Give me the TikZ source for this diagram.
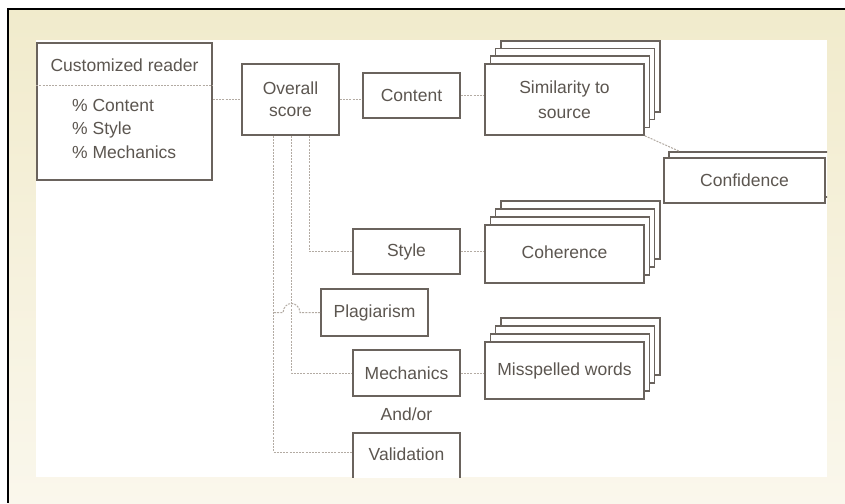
\documentclass[tikz,border=0pt]{standalone}
\usepackage{fontspec}
\setmainfont{Liberation Sans}
\usetikzlibrary{calc}
\definecolor{beigeT}{HTML}{F1EBCC}
\definecolor{beigeB}{HTML}{FAF7EC}
\definecolor{boxline}{HTML}{6A635D}
\definecolor{connline}{HTML}{B3ABA3}
\definecolor{txt}{HTML}{5C5650}
\begin{document}
\begin{tikzpicture}[x=1pt,y=-1pt,
  box/.style={draw=boxline, line width=1.6pt, fill=white, inner sep=0pt,
    font=\fontsize{17.5}{22}\selectfont, text=txt, align=center},
  conn/.style={draw=connline, line width=1pt, dash pattern=on 2pt off 1.2pt},
  lbl/.style={inner sep=0pt, font=\fontsize{17.5}{23.5}\selectfont, text=txt}]
\useasboundingbox (0,0) rectangle (845,503);
\fill[white] (0,0) rectangle (845,503);
\shade[top color=beigeT, bottom color=beigeB] (8,9) rectangle (845,503);
\fill[white] (36,40) rectangle (827,477);
\draw[black, line width=1.5pt] (8,503) -- (8,9) -- (845,9);

\begin{scope}
\clip (36,40) rectangle (827,477);

% Customized reader
\node[box, minimum width=175pt, minimum height=137pt] (cr) at (124.5,111.5) {};
\node[lbl] (crt) at (124.5,65) {Customized reader};
\draw[conn] ($(cr.north west)!0.314!(cr.south west)$) -- ($(cr.north east)!0.314!(cr.south east)$);
\node[lbl, anchor=west, align=left] (crl) at (72,128.5) {\% Content\\\% Style\\\% Mechanics};

% Overall score
\node[box, minimum width=97pt, minimum height=71pt] (ov) at (290.5,99.5) {Overall\\score};
% Content
\node[box, minimum width=97pt, minimum height=45pt] (ct) at (411.5,95.5) {Content};

% Similarity stack
\foreach \i in {3,2,1}
  \node[box, minimum width=159pt, minimum height=71pt] (sim\i) at (564.5+5.3*\i, 99.5-7.7*\i) {};
\node[box, minimum width=159pt, minimum height=71pt, font=\fontsize{17.5}{25}\selectfont] (sim) at (564.5,99.5) {Similarity to\\source};

% Confidence stack
\node[box, minimum width=161pt, minimum height=45pt] (cfb) at (749.5,174.5) {};
\node[box, minimum width=161pt, minimum height=45pt] (cf) at (744.5,180.5) {Confidence};

% Style
\node[box, minimum width=107pt, minimum height=45pt] (st) at (406.5,251.5) {Style};
% Coherence stack
\foreach \i in {3,2,1}
  \node[box, minimum width=159pt, minimum height=58pt] (coh\i) at (564.5+5.3*\i, 254-8*\i) {};
\node[box, minimum width=159pt, minimum height=58pt] (coh) at (564.5,254) {\raisebox{4pt}{Coherence}};

% Plagiarism
\node[box, minimum width=107pt, minimum height=47pt] (pl) at (374.5,312.5) {Plagiarism};
% Mechanics
\node[box, minimum width=107pt, minimum height=46pt] (me) at (406.5,373) {Mechanics};
% Misspelled stack
\foreach \i in {3,2,1}
  \node[box, minimum width=159pt, minimum height=57pt] (ms\i) at (564.5+5.3*\i, 370.5-8*\i) {};
\node[box, minimum width=159pt, minimum height=57pt] (ms) at (564.5,370.5) {\raisebox{3.5pt}{Misspelled words}};

\node[lbl] (andor) at (406.5,414) {And/or};
% Validation
\node[box, minimum width=107pt, minimum height=46pt] (va) at (406.5,456) {\raisebox{4pt}{Validation}};

% connectors
\coordinate (v1) at ([xshift=-17.5pt]ov.south);
\coordinate (v2) at ([xshift=0.5pt]ov.south);
\coordinate (v3) at ([xshift=18.5pt]ov.south);
\draw[conn] (cr.east |- ov.west) -- (ov.west);
\draw[conn] (ov.east) -- (ov.east -| ct.west);
\draw[conn] (ct.east) -- (ct.east -| sim.west);
\draw[conn] (sim.south east) -- ([xshift=11pt]cfb.north west);
\draw[conn] (v3) |- (st.west);
\draw[conn] (st.east) -- (st.east -| coh.west);
\draw[conn] (v2) |- (me.west);
\draw[conn] (me.east) -- (me.east -| ms.west);
\draw[conn] (v1) |- ([yshift=4pt]va.west);
\coordinate (hopR) at ($(v2 |- pl.west)+(9,0)$);
\coordinate (hopL) at ($(v2 |- pl.west)+(-8,0)$);
\draw[conn] (pl.west) -- (hopR) .. controls ($(hopR)+(-1,-12)$) and ($(hopL)+(1,-12)$) .. (hopL) -- (v1 |- pl.west);
\end{scope}
\end{tikzpicture}
\end{document}
